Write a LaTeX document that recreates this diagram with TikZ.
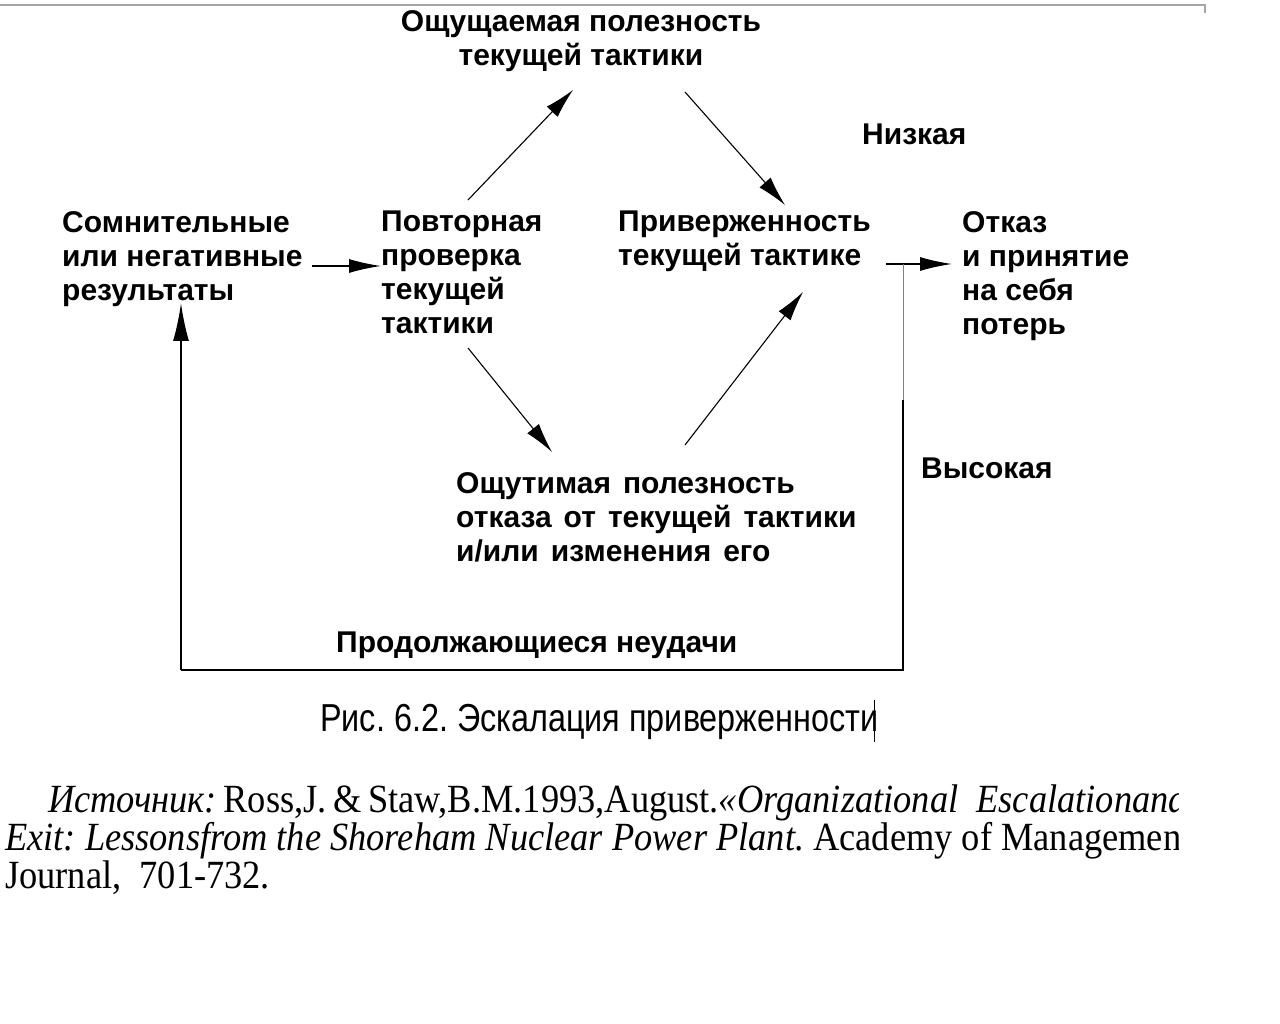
\documentclass[tikz,border=0pt]{standalone}
\usepackage{fontspec}
\setmainfont{Liberation Sans}
\newfontfamily\capfont[FakeStretch=0.83]{Liberation Sans}
\newfontfamily\srcfont[FakeStretch=0.91]{Liberation Serif}
\usetikzlibrary{arrows.meta}
\frenchspacing
\newcommand\mywidesp{\spaceskip=12pt\relax}
\begin{document}
\begin{tikzpicture}[x=1pt,y=-1pt,
  lbl/.style={font=\fontsize{30}{34}\selectfont\bfseries, inner sep=0pt, align=left},
  arr/.style={-{Latex[length=32pt,width=14pt]}, line width=1.4pt},
  darr/.style={-{Latex[length=30pt,width=15pt]}, line width=1.1pt},
  loopline/.style={line width=2pt},
  srcline/.style={font=\srcfont\fontsize{40}{40}\selectfont, inner sep=0pt, anchor=base west}]
\useasboundingbox (0,0) rectangle (1280,1024);
\fill[white] (0,0) rectangle (1280,1024);
% top scan edge
\draw[gray!70, line width=1.5pt] (0,5) -- (1205,5) -- (1205,13);

% nodes
\node[lbl, align=center, anchor=north] (top) at (581,10) {Ощущаемая полезность\\текущей тактики};
\node[lbl, anchor=north west] (low) at (862,124) {Низкая};
\node[lbl, anchor=north west] (sr) at (62,211) {Сомнительные\\или негативные\\результаты};
\node[lbl, anchor=north west] (pov) at (381,211) {Повторная\\проверка\\текущей\\тактики};
\node[lbl, anchor=north west] (prv) at (618,211) {Приверженность\\текущей тактике};
\node[lbl, anchor=north west] (otk) at (962,211) {Отказ\\и принятие\\на себя\\потерь};
\node[lbl, anchor=north west] (vys) at (921,458) {Высокая};
\node[lbl, anchor=north west, font=\fontsize{30}{34}\selectfont\bfseries\mywidesp] (otg) at (456,472) {Ощутимая полезность\\отказа от текущей тактики\\и/или изменения его};
\node[lbl, anchor=north west] (prod) at (336,632) {Продолжающиеся неудачи};

% connector end points
\coordinate (s1) at (312,266);
\coordinate (d1a) at (468,200);
\coordinate (d1b) at (573,90);
\coordinate (d2a) at (685,92);
\coordinate (d2b) at (785,205);
\coordinate (d3a) at (468,348);
\coordinate (d3b) at (552,452);
\coordinate (d4a) at (685,445);
\coordinate (d4b) at (803,292);
\coordinate (j0) at (886,264);
\coordinate (j) at (903,264);
\coordinate (jm) at (903,400);
\coordinate (br) at (903,670);
\coordinate (bl) at (181,670);
\coordinate (lt) at (181,303);

% connectors
\draw[arr] (s1) -- (s1 -| pov.west);
\draw[darr] (d1a) -- (d1b);
\draw[darr] (d2a) -- (d2b);
\draw[darr] (d3a) -- (d3b);
\draw[darr] (d4a) -- (d4b);
\draw[arr] (j0) -- ([xshift=-10pt]j0 -| otk.west);
\draw[gray, line width=1pt] (j) -- (jm);
\draw[loopline] (jm) -- (br) -- (bl);
\draw[line width=1.8pt, -{Latex[length=38pt,width=16pt]}] (bl) -- (lt);

% caption
\node[font=\capfont\fontsize{39}{40}\selectfont, inner sep=0pt, anchor=base west] (cap) at (320,731) {Рис. 6.2. Эскалация приверженности};
\draw[line width=1pt] (874,700) -- (874,742);

% source
\begin{scope}
\clip (0,770) rectangle (1178,905);
\node[srcline] (src1) at (48,812) {\textit{Источник:}\,Ross,J.\,\&\,Staw,B.M.1993,August.\textit{«Organizational~~Escalationand}};
\node[srcline] (src2) at (5,850) {\textit{Exit: Lessonsfrom the Shoreham Nuclear Power Plant.} Academy of Management};
\node[srcline] (src3) at (5,888) {Journal,~~701-732.};
\end{scope}
\end{tikzpicture}
\end{document}
